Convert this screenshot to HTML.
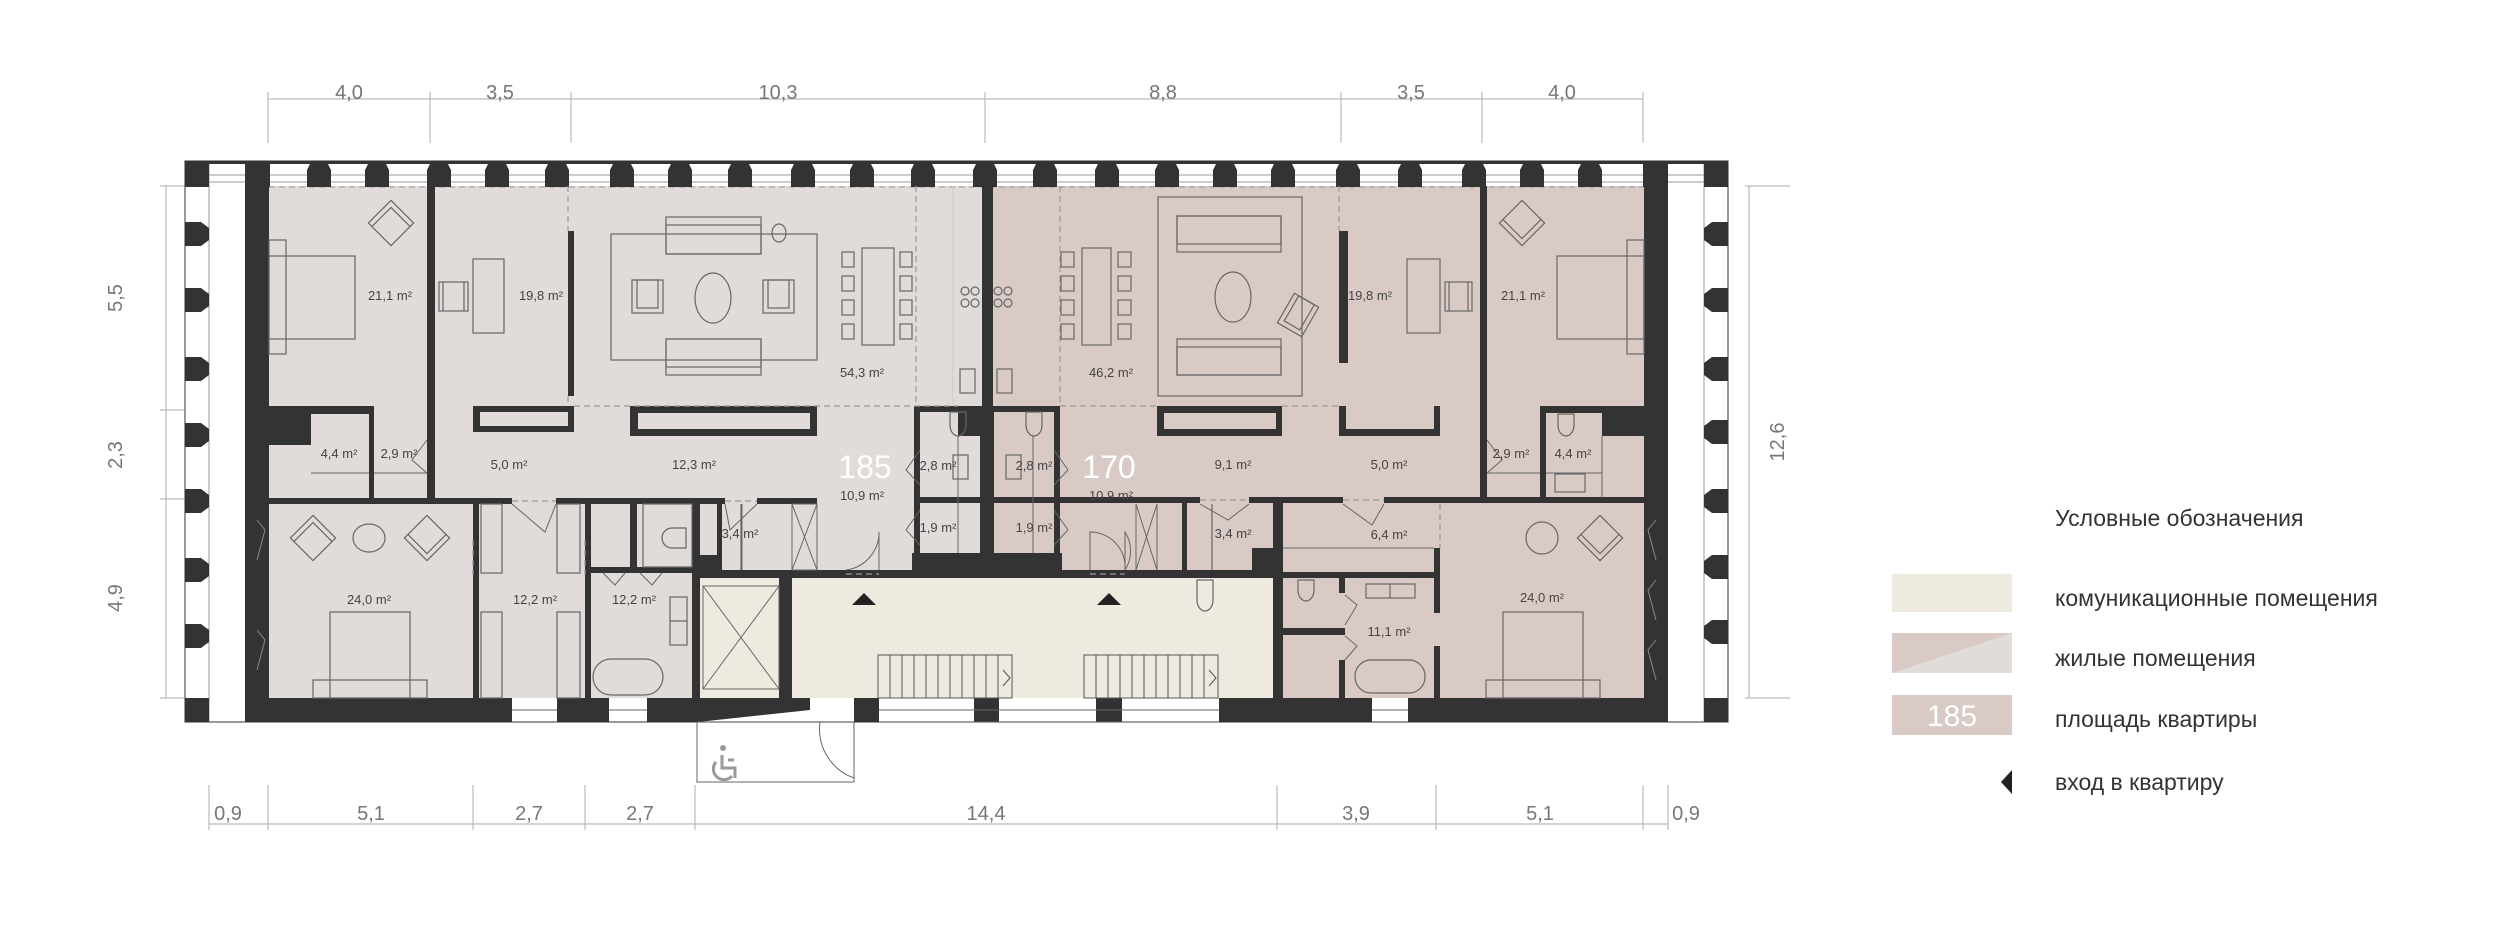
<!DOCTYPE html>
<html><head><meta charset="utf-8"><style>
html,body{margin:0;padding:0;background:#fff}
svg{display:block}
text{font-family:"Liberation Sans",sans-serif}
</style></head><body>
<svg width="2500" height="940" viewBox="0 0 2500 940" xmlns="http://www.w3.org/2000/svg">
<rect width="2500" height="940" fill="#fff"/>
<!-- dimensions -->
<g stroke="#bbb" stroke-width="1.2" fill="none">
<line x1="268" y1="99" x2="1643" y2="99"/>
<line x1="268" y1="92" x2="268" y2="143"/><line x1="430" y1="92" x2="430" y2="143"/><line x1="571" y1="92" x2="571" y2="143"/><line x1="985" y1="92" x2="985" y2="143"/><line x1="1341" y1="92" x2="1341" y2="143"/><line x1="1482" y1="92" x2="1482" y2="143"/><line x1="1643" y1="92" x2="1643" y2="143"/>
<line x1="166" y1="186" x2="166" y2="698"/>
<line x1="160" y1="186" x2="208" y2="186"/><line x1="160" y1="410" x2="208" y2="410"/><line x1="160" y1="499" x2="208" y2="499"/><line x1="160" y1="698" x2="208" y2="698"/>
<line x1="1749" y1="186" x2="1749" y2="698"/>
<line x1="1745" y1="186" x2="1790" y2="186"/><line x1="1745" y1="698" x2="1790" y2="698"/>
<line x1="209" y1="824" x2="1668" y2="824"/>
<g><line x1="209" y1="785" x2="209" y2="830"/><line x1="268" y1="785" x2="268" y2="830"/><line x1="473" y1="785" x2="473" y2="830"/><line x1="585" y1="785" x2="585" y2="830"/><line x1="695" y1="785" x2="695" y2="830"/><line x1="1277" y1="785" x2="1277" y2="830"/><line x1="1436" y1="785" x2="1436" y2="830"/><line x1="1643" y1="785" x2="1643" y2="830"/><line x1="1668" y1="785" x2="1668" y2="830"/></g>
</g>
<g fill="#777" font-size="20" text-anchor="middle">
<text x="349" y="99">4,0</text><text x="500" y="99">3,5</text><text x="778" y="99">10,3</text><text x="1163" y="99">8,8</text><text x="1411" y="99">3,5</text><text x="1562" y="99">4,0</text>
<text x="228" y="820">0,9</text><text x="371" y="820">5,1</text><text x="529" y="820">2,7</text><text x="640" y="820">2,7</text><text x="986" y="820">14,4</text><text x="1356" y="820">3,9</text><text x="1540" y="820">5,1</text><text x="1686" y="820">0,9</text>
<text transform="translate(122,298) rotate(-90)">5,5</text>
<text transform="translate(122,455) rotate(-90)">2,3</text>
<text transform="translate(122,598) rotate(-90)">4,9</text>
<text transform="translate(1784,442) rotate(-90)">12,6</text>
</g>

<!-- building background bands -->
<rect x="185" y="161" width="1543" height="561" fill="#fff" stroke="#555" stroke-width="1.2"/>
<!-- fills -->
<rect x="269" y="186" width="724" height="512" fill="#e1dcd9"/>
<rect x="993" y="186" width="651" height="512" fill="#dacac5"/>
<rect x="700" y="578" width="573" height="120" fill="#eeeadf"/>
<rect x="914" y="406" width="146" height="150" fill="#e1dcd9"/>
<rect x="993" y="406" width="67" height="150" fill="#dacac5"/>

<!-- top window band -->
<g stroke="#999" stroke-width="1" fill="none">
<line x1="200" y1="175" x2="1715" y2="175"/><line x1="200" y1="182" x2="1715" y2="182"/>
<line x1="269" y1="187" x2="1644" y2="187" stroke-dasharray="6 4"/>
<line x1="209" y1="162" x2="209" y2="722"/><line x1="1704" y1="162" x2="1704" y2="722"/>
<line x1="245" y1="499" x2="269" y2="499"/><line x1="1644" y1="499" x2="1668" y2="499"/>
</g>
<g fill="#333">
<rect x="185" y="161" width="1543" height="3"/>
<path d="M185 162 H209 V187 H185Z"/>
<path d="M1704 162 H1728 V187 H1704Z"/>
</g>
<g fill="#333" id="piers">
<path d="M245 162 H270 V187 H245Z"/>
<path d="M1643 162 H1668 V187 H1643Z"/>
</g>
<g fill="#333">
<!-- top piers -->
<g transform="translate(319,0)"><path id="tp" d="M-8 162 H8 L12 170 V187 H-12 V170Z"/></g>
<use href="#tp" x="377"/><use href="#tp" x="439"/><use href="#tp" x="497"/><use href="#tp" x="557"/><use href="#tp" x="622"/><use href="#tp" x="680"/><use href="#tp" x="740"/><use href="#tp" x="803"/><use href="#tp" x="862"/><use href="#tp" x="923"/><use href="#tp" x="985"/><use href="#tp" x="1045"/><use href="#tp" x="1107"/><use href="#tp" x="1167"/><use href="#tp" x="1225"/><use href="#tp" x="1283"/><use href="#tp" x="1348"/><use href="#tp" x="1410"/><use href="#tp" x="1474"/><use href="#tp" x="1532"/><use href="#tp" x="1590"/>
<!-- left piers -->
<path id="lp" d="M185 -12 H201 L209 -6 V6 L201 12 H185Z" transform="translate(0,234)"/>
<use href="#lp" y="66"/><use href="#lp" y="135"/><use href="#lp" y="201"/><use href="#lp" y="267"/><use href="#lp" y="336"/><use href="#lp" y="402"/>
<path id="rp" d="M1728 -12 H1712 L1704 -6 V6 L1712 12 H1728Z" transform="translate(0,234)"/>
<use href="#rp" y="66"/><use href="#rp" y="135"/><use href="#rp" y="198"/><use href="#rp" y="267"/><use href="#rp" y="333"/><use href="#rp" y="398"/>
<!-- corners bottom -->
<rect x="185" y="698" width="24" height="24"/><rect x="1704" y="698" width="24" height="24"/>
<!-- main walls -->
<rect x="245" y="162" width="24" height="560"/>
<rect x="1644" y="162" width="24" height="560"/>
<!-- bottom wall left -->
<rect x="245" y="698" width="267" height="24"/>
<rect x="557" y="698" width="52" height="24"/>
<rect x="647" y="698" width="51" height="24"/>
<path d="M698 698 H792 L810 698 V710 L698 722Z"/>
<rect x="698" y="698" width="112" height="12"/>
<rect x="854" y="698" width="25" height="24"/>
<rect x="974" y="698" width="25" height="24"/>
<rect x="1096" y="698" width="26" height="24"/>
<rect x="1219" y="698" width="153" height="24"/>
<rect x="1408" y="698" width="236" height="24"/>
<!-- interior walls left apt -->
<rect x="427" y="186" width="8" height="312"/>
<rect x="269" y="406" width="42" height="39"/>
<rect x="311" y="406" width="62" height="8"/>
<rect x="369" y="406" width="5" height="92"/>
<rect x="568" y="231" width="6" height="165"/>
<path d="M473 406 H574 V432 H473Z M480 412 V426 H568 V412Z" fill-rule="evenodd"/>
<path d="M630 406 H817 V436 H630Z M638 413 V429 H810 V413Z" fill-rule="evenodd"/>
<rect x="269" y="498" width="243" height="6"/>
<rect x="556" y="498" width="169" height="6"/>
<rect x="757" y="498" width="60" height="6"/>
<rect x="473" y="504" width="6" height="194"/>
<rect x="585" y="504" width="6" height="194"/>
<rect x="585" y="567" width="107" height="6"/>
<rect x="630" y="504" width="7" height="67"/>
<rect x="692" y="504" width="8" height="194"/>
<rect x="695" y="570" width="578" height="8"/>
<rect x="779" y="578" width="13" height="120"/>
<rect x="696" y="555" width="26" height="20"/>
<rect x="717" y="504" width="5" height="66"/>
<!-- core -->
<rect x="982" y="186" width="11" height="220"/>
<rect x="914" y="406" width="146" height="6"/>
<rect x="958" y="406" width="36" height="30"/>
<rect x="914" y="406" width="6" height="170"/>
<rect x="1054" y="406" width="6" height="170"/>
<rect x="980" y="436" width="14" height="140"/>
<rect x="914" y="497" width="146" height="6"/>
<rect x="912" y="553" width="150" height="25"/>
<!-- right apt walls -->
<rect x="1339" y="231" width="9" height="132"/>
<rect x="1480" y="186" width="7" height="312"/>
<path d="M1157 406 H1282 V436 H1157Z M1164 413 V429 H1276 V413Z" fill-rule="evenodd"/>
<path d="M1339 406 H1440 V436 H1339Z M1346 406 V429 H1434 V406Z" fill-rule="evenodd"/>
<rect x="1480" y="473" width="6" height="25"/>
<rect x="1540" y="406" width="104" height="7"/>
<rect x="1540" y="406" width="6" height="92"/>
<rect x="1602" y="406" width="42" height="30"/>
<rect x="1060" y="497" width="140" height="6"/>
<rect x="1249" y="497" width="94" height="6"/>
<rect x="1384" y="497" width="260" height="6"/>
<rect x="1182" y="503" width="5" height="70"/>
<rect x="1252" y="548" width="31" height="30"/>
<rect x="1273" y="503" width="10" height="195"/>
<rect x="1273" y="572" width="167" height="6"/>
<rect x="1434" y="548" width="6" height="65"/>
<rect x="1434" y="646" width="6" height="52"/>
<rect x="1339" y="578" width="6" height="15"/>
<rect x="1339" y="660" width="6" height="38"/>
<rect x="1283" y="628" width="62" height="7"/>
</g>

<!-- thin lines / dashed -->
<g stroke="#666" stroke-width="1" fill="none">
<line x1="1283" y1="548" x2="1434" y2="548"/>
<line x1="1136" y1="504" x2="1136" y2="570"/><line x1="1157" y1="504" x2="1157" y2="570"/>
<path d="M1136 504 L1157 570 M1157 504 L1136 570"/>
<path d="M792 504 L817 570 M817 504 L792 570"/><rect x="792" y="504" width="25" height="66"/>
<line x1="742" y1="504" x2="742" y2="570"/>
<rect x="703" y="586" width="76" height="103"/>
<path d="M703 586 L779 689 M779 586 L703 689"/>
<line x1="958" y1="436" x2="958" y2="553"/><line x1="1033" y1="436" x2="1033" y2="553"/>
<line x1="311" y1="473" x2="369" y2="473"/><line x1="374" y1="473" x2="427" y2="473"/>
<line x1="1487" y1="473" x2="1540" y2="473"/><line x1="1546" y1="473" x2="1602" y2="473"/>
<line x1="1602" y1="436" x2="1602" y2="498"/>
<rect x="697" y="722" width="157" height="60"/>
<line x1="879" y1="722" x2="1219" y2="722"/>
<line x1="879" y1="710" x2="1219" y2="710"/>
<line x1="1372" y1="710" x2="1408" y2="710"/>
<line x1="512" y1="710" x2="557" y2="710"/><line x1="609" y1="710" x2="647" y2="710"/>
</g>
<g stroke="#999" stroke-width="1.2" fill="none" stroke-dasharray="6 4">
<line x1="574" y1="406" x2="958" y2="406"/>
<line x1="1060" y1="406" x2="1157" y2="406"/><line x1="1282" y1="406" x2="1339" y2="406"/>
<line x1="568" y1="186" x2="568" y2="231"/><line x1="568" y1="396" x2="568" y2="406"/>
<line x1="1339" y1="186" x2="1339" y2="231"/>
<line x1="916" y1="186" x2="916" y2="406"/><line x1="1060" y1="186" x2="1060" y2="406"/>
<line x1="1440" y1="504" x2="1440" y2="548"/>
<line x1="473" y1="540" x2="473" y2="575"/><line x1="585" y1="540" x2="585" y2="575"/>
<line x1="512" y1="501" x2="556" y2="501"/><line x1="725" y1="501" x2="757" y2="501"/>
<line x1="1200" y1="500" x2="1249" y2="500"/><line x1="1343" y1="500" x2="1384" y2="500"/>
<line x1="846" y1="574" x2="879" y2="574"/><line x1="1090" y1="574" x2="1125" y2="574"/>
</g>
<g stroke="#ccc" stroke-width="1" fill="none">
<line x1="953" y1="186" x2="953" y2="406"/><line x1="1018" y1="186" x2="1018" y2="406"/>
</g>
<!-- doors -->
<g stroke="#666" stroke-width="1" fill="none">
<path d="M879 570 V532 A38 38 0 0 1 846 570"/>
<path d="M1125 570 V532 A35 35 0 0 1 1125 570 M1090 570 V532 A35 35 0 0 1 1125 570"/>
<path d="M854 722 V778 A52 52 0 0 1 820 722"/>
<path d="M512 504 L545 532 L556 504"/>
<path d="M725 504 L730 530 L757 504"/>
<path d="M1200 504 L1228 520 L1249 504"/>
<path d="M1343 504 L1372 525 L1384 504"/>
<path d="M427 440 L412 460 L427 473"/>
<path d="M1487 440 L1502 460 L1487 473"/>
<path d="M920 450 L906 470 L920 485 M1054 450 L1068 470 L1054 485"/>
<path d="M920 510 L906 530 L920 545 M1054 510 L1068 530 L1054 545"/>
<path d="M603 573 L615 585 L625 573 M640 573 L652 585 L662 573"/>
<path d="M1345 595 L1357 605 L1345 625 M1345 636 L1357 646 L1345 660"/>
</g>
<!-- stairs -->
<g stroke="#555" stroke-width="1" fill="none">
<rect x="878" y="655" width="134" height="43"/>
<rect x="1084" y="655" width="134" height="43"/>
<path d="M890 655V698M902 655V698M914 655V698M926 655V698M938 655V698M950 655V698M962 655V698M974 655V698M986 655V698M998 655V698"/>
<path d="M1096 655V698M1108 655V698M1120 655V698M1132 655V698M1144 655V698M1156 655V698M1168 655V698M1180 655V698M1192 655V698M1204 655V698"/>
<path d="M1003 670 L1010 678 L1003 686 M1209 670 L1216 678 L1209 686"/>
</g>
<g fill="#222"><path d="M852 605 L864 593 L876 605Z"/><path d="M1097 605 L1109 593 L1121 605Z"/></g>
<!-- wheelchair -->
<g stroke="#999" stroke-width="3" fill="none"><circle cx="723" cy="748" r="3" fill="#999" stroke="none"/><path d="M722 755 V768 H735 V778 M716 762 A10 10 0 1 0 732 776 M728 760 H734"/></g>

<!-- furniture -->
<g stroke="#666" stroke-width="1.2" fill="none">
<rect x="269" y="240" width="17" height="114"/><rect x="269" y="256" width="86" height="83"/>
<g transform="translate(391,223) rotate(45)"><rect x="-16" y="-16" width="32" height="32"/><path d="M-11 16 V-11 H16"/></g>
<rect x="473" y="259" width="31" height="74"/><rect x="439" y="282" width="29" height="29"/><path d="M443 282 V311 M464 282 V311"/>
<rect x="611" y="234" width="206" height="126"/>
<rect x="666" y="217" width="95" height="37"/><rect x="666" y="225" width="95" height="29"/>
<rect x="666" y="339" width="95" height="36"/><rect x="666" y="339" width="95" height="28"/>
<rect x="632" y="280" width="31" height="33"/><rect x="637" y="280" width="21" height="28"/>
<rect x="763" y="280" width="31" height="33"/><rect x="768" y="280" width="21" height="28"/>
<ellipse cx="713" cy="298" rx="18" ry="25"/><ellipse cx="779" cy="233" rx="7" ry="9"/>
<rect x="862" y="248" width="32" height="97"/>
<rect x="842" y="252" width="12" height="15"/><rect x="842" y="276" width="12" height="15"/><rect x="842" y="300" width="12" height="15"/><rect x="842" y="324" width="12" height="15"/>
<rect x="900" y="252" width="12" height="15"/><rect x="900" y="276" width="12" height="15"/><rect x="900" y="300" width="12" height="15"/><rect x="900" y="324" width="12" height="15"/>
<circle cx="965" cy="291" r="4"/><circle cx="975" cy="291" r="4"/><circle cx="965" cy="303" r="4"/><circle cx="975" cy="303" r="4"/>
<circle cx="998" cy="291" r="4"/><circle cx="1008" cy="291" r="4"/><circle cx="998" cy="303" r="4"/><circle cx="1008" cy="303" r="4"/>
<rect x="960" y="369" width="15" height="24"/><rect x="997" y="369" width="15" height="24"/>
<path d="M950 425 a8 11 0 0 0 16 0 V412 H950Z M1026 425 a8 11 0 0 0 16 0 V412 H1026Z"/>
<rect x="953" y="455" width="15" height="24"/><rect x="1006" y="455" width="15" height="24"/>
<!-- bottom left bedroom -->
<g transform="translate(313,538) rotate(45)"><rect x="-16" y="-16" width="32" height="32"/><path d="M-11 16 V-11 H16"/></g>
<g transform="translate(427,538) rotate(45)"><rect x="-16" y="-16" width="32" height="32"/><path d="M-16 11 H11 V-16"/></g>
<ellipse cx="369" cy="538" rx="16" ry="14"/>
<rect x="330" y="612" width="80" height="86"/><rect x="313" y="680" width="114" height="18"/>
<rect x="481" y="504" width="21" height="69"/><rect x="557" y="504" width="23" height="69"/>
<rect x="481" y="612" width="21" height="86"/><rect x="557" y="612" width="23" height="86"/>
<rect x="593" y="659" width="70" height="36" rx="18"/><rect x="670" y="597" width="17" height="48"/><line x1="670" y1="621" x2="687" y2="621"/>
<rect x="643" y="504" width="49" height="63"/>
<path d="M672 528 a10 10 0 0 0 0 20 h14 v-20Z"/>
<line x1="741" y1="504" x2="741" y2="570"/>
<!-- right apt -->
<rect x="1158" y="197" width="144" height="199"/>
<rect x="1177" y="216" width="104" height="36"/><rect x="1177" y="216" width="104" height="28"/>
<rect x="1177" y="339" width="104" height="36"/><rect x="1177" y="347" width="104" height="28"/>
<ellipse cx="1233" cy="297" rx="18" ry="25"/>
<g transform="translate(1298,315) rotate(30)"><rect x="-14" y="-17" width="28" height="34"/><rect x="-9" y="-17" width="18" height="29"/></g>
<rect x="1082" y="248" width="29" height="97"/>
<rect x="1061" y="252" width="13" height="15"/><rect x="1061" y="276" width="13" height="15"/><rect x="1061" y="300" width="13" height="15"/><rect x="1061" y="324" width="13" height="15"/>
<rect x="1118" y="252" width="13" height="15"/><rect x="1118" y="276" width="13" height="15"/><rect x="1118" y="300" width="13" height="15"/><rect x="1118" y="324" width="13" height="15"/>
<rect x="1407" y="259" width="33" height="74"/><rect x="1445" y="282" width="27" height="29"/><path d="M1449 282 V311 M1468 282 V311"/>
<rect x="1627" y="240" width="17" height="114"/><rect x="1557" y="256" width="87" height="83"/>
<g transform="translate(1522,223) rotate(45)"><rect x="-16" y="-16" width="32" height="32"/><path d="M-16 11 H11 V-16"/></g>
<path d="M1558 425 a8 11 0 0 0 16 0 V414 H1558Z"/><rect x="1555" y="474" width="30" height="18"/>
<ellipse cx="1542" cy="538" rx="16" ry="16"/>
<g transform="translate(1600,538) rotate(45)"><rect x="-16" y="-16" width="32" height="32"/><path d="M-16 11 H11 V-16"/></g>
<rect x="1503" y="612" width="80" height="86"/><rect x="1486" y="680" width="114" height="18"/>
<rect x="1355" y="660" width="70" height="33" rx="16"/>
<rect x="1366" y="584" width="49" height="14"/><line x1="1390" y1="584" x2="1390" y2="598"/>
<path d="M1298 590 a8 11 0 0 0 16 0 V580 H1298Z"/>
<path d="M1197 600 a8 11 0 0 0 16 0 V580 H1197Z"/>
<line x1="1212" y1="504" x2="1212" y2="570"/>
</g>
<!-- windows on lower side bands -->
<g stroke="#888" stroke-width="1" fill="none">
<path d="M257 520 L265 530 L257 560 M257 630 L265 640 L257 670"/>
<path d="M1656 520 L1648 530 L1656 560 M1656 580 L1648 590 L1656 620 M1656 640 L1648 650 L1656 680"/>
</g>

<!-- labels -->
<g fill="#444" font-size="13" text-anchor="middle">
<text x="390" y="300">21,1 m²</text><text x="541" y="300">19,8 m²</text><text x="862" y="377">54,3 m²</text>
<text x="339" y="458">4,4 m²</text><text x="399" y="458">2,9 m²</text><text x="509" y="469">5,0 m²</text><text x="694" y="469">12,3 m²</text>
<text x="862" y="500">10,9 m²</text><text x="938" y="470">2,8 m²</text><text x="938" y="532">1,9 m²</text>
<text x="369" y="604">24,0 m²</text><text x="535" y="604">12,2 m²</text><text x="634" y="604">12,2 m²</text><text x="740" y="538">3,4 m²</text>
<text x="1111" y="377">46,2 m²</text><text x="1034" y="470">2,8 m²</text><text x="1111" y="500">10,9 m²</text><text x="1034" y="532">1,9 m²</text>
<text x="1233" y="538">3,4 m²</text><text x="1233" y="469">9,1 m²</text><text x="1389" y="469">5,0 m²</text>
<text x="1511" y="458">2,9 m²</text><text x="1573" y="458">4,4 m²</text><text x="1370" y="300">19,8 m²</text><text x="1523" y="300">21,1 m²</text>
<text x="1389" y="539">6,4 m²</text><text x="1542" y="602">24,0 m²</text><text x="1389" y="636">11,1 m²</text>
</g>
<g fill="#fff" font-size="32" text-anchor="middle"><text x="865" y="478">185</text><text x="1109" y="478">170</text></g>

<!-- legend -->
<g font-size="23" fill="#333">
<text x="2055" y="526">Условные обозначения</text>
<rect x="1892" y="574" width="120" height="38" fill="#eeeadf"/>
<text x="2055" y="606">комуникационные помещения</text>
<rect x="1892" y="633" width="120" height="40" fill="#e1dcd9"/>
<path d="M1892 633 H2012 L1892 673Z" fill="#dacac5"/>
<text x="2055" y="666">жилые помещения</text>
<rect x="1892" y="695" width="120" height="40" fill="#dacac5"/>
<text x="1952" y="726" font-size="30" fill="#fff" text-anchor="middle">185</text>
<text x="2055" y="727">площадь квартиры</text>
<path d="M2012 770 V794 L2001 782Z" fill="#222"/>
<text x="2055" y="790">вход в  квартиру</text>
</g>
</svg>
</body></html>
